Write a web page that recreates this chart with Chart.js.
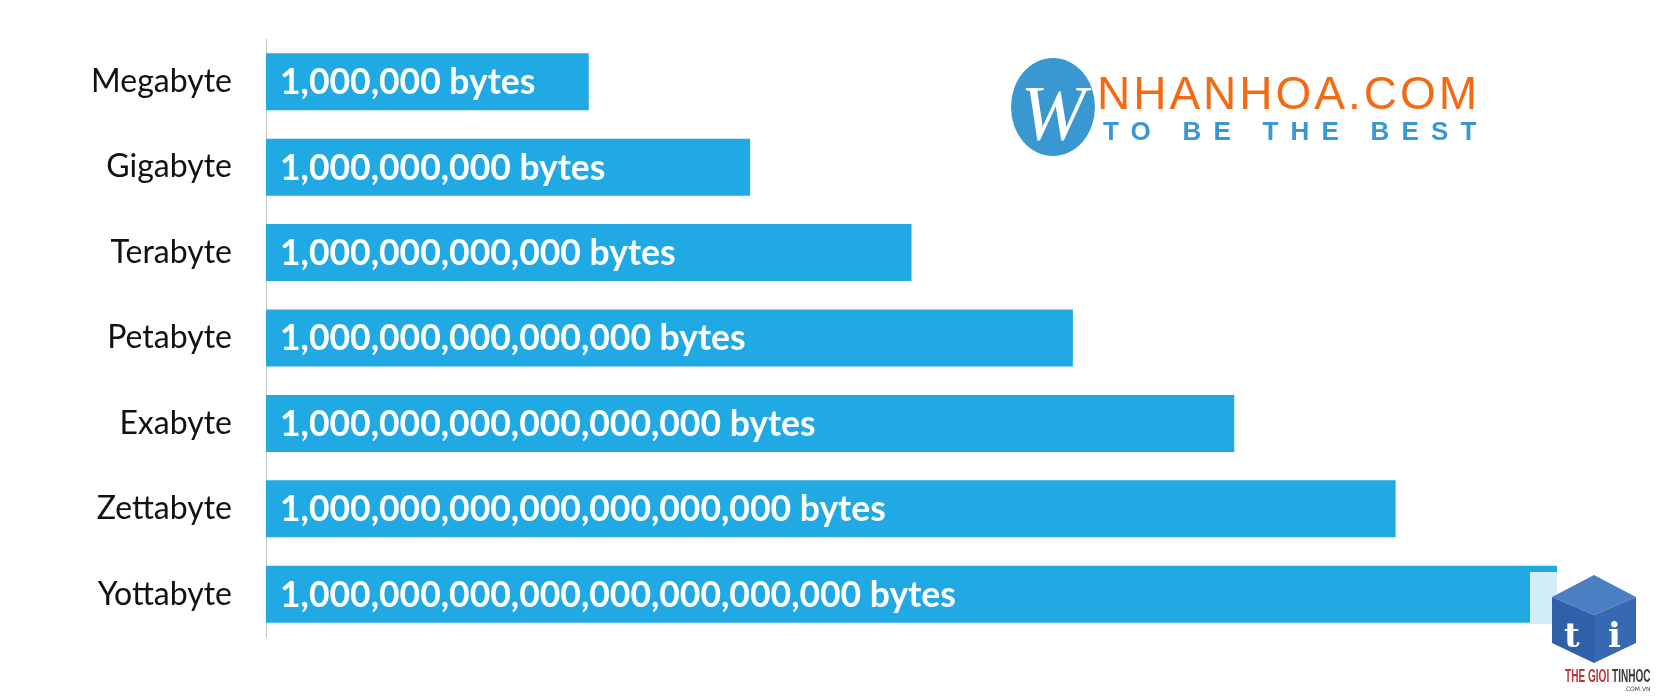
<!DOCTYPE html>
<html>
<head>
<meta charset="utf-8">
<script src="https://cdn.jsdelivr.net/npm/chart.js@4/dist/chart.umd.min.js"></script>
<style>
  html, body { margin: 0; padding: 0; background: #fff; }
  #wrap { position: relative; width: 1656px; height: 698px; overflow: hidden; }
  #chart { position: absolute; left: 0; top: 0; }
  .logo1 { position: absolute; left: 1011px; top: 58px; width: 84px; height: 98px; border-radius: 50%; background: #3898cf; }
  .logo1 span { position: absolute; left: 0; top: 10px; width: 84px; text-align: center; color: #fff; font: italic 78px "Liberation Serif", serif; }
  .logo1t { position: absolute; left: 1097px; top: 66px; color: #f26b12; font: 46px "Liberation Sans", Arial, sans-serif; letter-spacing: 3px; white-space: nowrap; }
  .logo1s { position: absolute; left: 1103px; top: 116px; color: #3898cf; font: bold 26px "Liberation Sans", Arial, sans-serif; letter-spacing: 12.2px; white-space: nowrap; }
  .fade { position: absolute; left: 1530px; top: 572px; width: 27px; height: 52px; background: #d4eef9; }
  .cube { position: absolute; left: 1552px; top: 575px; width: 84px; height: 88px; }
  .cube div { position: absolute; left: 0; top: 0; width: 84px; height: 88px; }
  .cube .top { background: #4a7fc4; clip-path: polygon(42px 0, 84px 22px, 42px 40px, 0 22px); }
  .cube .lf { background: #2f61a9; clip-path: polygon(0 22px, 42px 40px, 42px 88px, 0 68px); }
  .cube .rf { background: #3669b2; clip-path: polygon(84px 22px, 42px 40px, 42px 88px, 84px 68px); }
  .cube b { position: absolute; top: 40px; color: #fff; font: bold 34px "DejaVu Serif", serif; }
  .tg { position: absolute; left: 1565px; top: 665px; font: bold 19px "Liberation Sans", sans-serif; white-space: nowrap; transform: scaleX(0.53); transform-origin: 0 0; }
  .tg .r { color: #b8373a; } .tg .d { color: #3a3a3a; }
  .tgs { position: absolute; left: 1624px; top: 685px; font: 6px "DejaVu Sans", sans-serif; color: #444; }
</style>
</head>
<body>
<div id="wrap">
  <canvas id="chart" width="1656" height="698"></canvas>
  <div class="logo1"><span>W</span></div>
  <div class="logo1t">NHANHOA.COM</div>
  <div class="logo1s">TO BE THE BEST</div>
  <div class="fade"></div>
  <div class="cube"><div class="top"></div><div class="lf"></div><div class="rf"></div><b style="left:12px">t</b><b style="left:56px">i</b></div>
  <div class="tg"><span class="r">THE GIOI</span> <span class="d">TINHOC</span></div>
  <div class="tgs">.COM.VN</div>
</div>
<script>
const barColor = "#20a9e3";
const axisColor = "#c4c4c4";

const units = ["Megabyte", "Gigabyte", "Terabyte", "Petabyte", "Exabyte", "Zettabyte", "Yottabyte"];
// power of ten for each unit (bar length)
const exponents = [6, 9, 12, 15, 18, 21, 24];

function bytesText(exp) {
    return "1" + ",000".repeat(exp / 3) + " bytes";
}

const barText = {
    id: 'barText',
    afterDatasetsDraw(chart) {
        const ctx = chart.ctx;
        const meta = chart.getDatasetMeta(0);
        ctx.save();
        ctx.fillStyle = "#fff";
        ctx.font = "bold 35.5px Lato";
        ctx.textBaseline = "middle";
        ctx.textAlign = "left";
        meta.data.forEach(function (bar, i) {
            ctx.fillText(bytesText(exponents[i]), bar.base + 14, bar.y + 1);
        });
        ctx.restore();
    }
};

var ctx = document.getElementById('chart').getContext('2d');
var chart = new Chart(ctx, {
    type: 'bar',
    data: {
        labels: units,
        datasets: [{
            data: exponents,
            backgroundColor: barColor,
            barPercentage: 0.667,
            categoryPercentage: 1
        }]
    },
    options: {
        indexAxis: 'y',
        responsive: false,
        animation: false,
        layout: { padding: { top: 39, bottom: 61, right: 99, left: 0 } },
        plugins: { legend: { display: false }, tooltip: { enabled: false } },
        scales: {
            x: { min: 0, max: 24, display: false },
            y: {
                grid: { display: false, drawTicks: true, tickLength: 34 },
                border: { display: true, color: axisColor, width: 1 },
                ticks: { color: "#111", padding: 0, font: { family: "Lato", size: 32 } },
                afterFit(scale) { scale.width = 266; }
            }
        }
    },
    plugins: [barText]
});
</script>
</body>
</html>
